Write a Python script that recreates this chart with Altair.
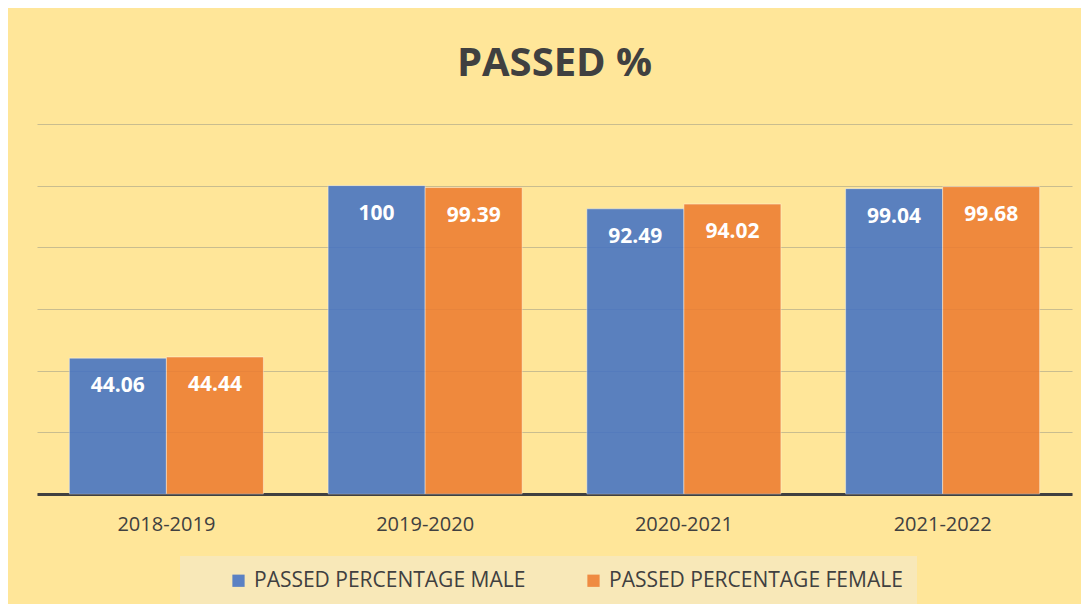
import altair as alt
import pandas as pd

years = ["2018-2019", "2019-2020", "2020-2021", "2021-2022"]
male = [44.06, 100, 92.49, 99.04]
female = [44.44, 99.39, 94.02, 99.68]
male_labels = ["44.06", "100", "92.49", "99.04"]
female_labels = ["44.44", "99.39", "94.02", "99.68"]
series = ["PASSED PERCENTAGE MALE", "PASSED PERCENTAGE FEMALE"]
colors = ["#4472C4", "#ED7D31"]

rows = []
for i, y in enumerate(years):
    rows.append({"year": y, "series": series[0], "value": male[i], "label": male_labels[i]})
    rows.append({"year": y, "series": series[1], "value": female[i], "label": female_labels[i]})
df = pd.DataFrame(rows)

FONT = "Open Sans"
DARK = "#404040"

x = alt.X("year:N", sort=years, title=None,
          scale=alt.Scale(paddingInner=0.25, paddingOuter=0.125),
          axis=alt.Axis(labelAngle=0, ticks=False, labelPadding=20, labelFontSize=20,
                        labelFont=FONT, labelColor=DARK, domainColor=DARK, domainWidth=3,
                        grid=False))
xoff = alt.XOffset("series:N", sort=series)
y = alt.Y("value:Q", title=None,
          scale=alt.Scale(domain=[0, 120], nice=False),
          axis=alt.Axis(values=[0, 20, 40, 60, 80, 100, 120], labels=False, ticks=False,
                        domain=False, grid=True, gridColor="#C9BD8F", gridWidth=1))

bars = alt.Chart(df).mark_bar(opacity=0.88, stroke="#FFFFFF", strokeOpacity=0.45, strokeWidth=1).encode(
    x=x, xOffset=xoff, y=y,
    color=alt.Color("series:N", sort=series,
                    scale=alt.Scale(domain=series, range=colors),
                    legend=alt.Legend(title=" ", titleOrient="left", titlePadding=34,
                                      orient="none", legendX=181 - 38, legendY=432,
                                      direction="horizontal", fillColor="#F8E8B8",
                                      padding=14, symbolType="square", symbolSize=150,
                                      symbolOpacity=0.88, symbolStrokeWidth=0,
                                      labelFont=FONT, labelFontSize=21, labelColor=DARK,
                                      labelOffset=5, columnPadding=57, labelLimit=400)),
)

texts = alt.Chart(df).mark_text(color="white", font=FONT, fontWeight="bold", fontSize=21,
                                baseline="middle", dy=28).encode(
    x=alt.X("year:N", sort=years, scale=alt.Scale(paddingInner=0.25, paddingOuter=0.125)),
    xOffset=xoff, y=alt.Y("value:Q", scale=alt.Scale(domain=[0, 120], nice=False)),
    text="label:N",
)

chart = alt.layer(bars, texts).properties(
    width=1035, height=370,
    title=alt.Title("PASSED %", font=FONT, fontSize=40, fontWeight="bold", color=DARK,
                    anchor="middle", offset=40),
    autosize=alt.AutoSizeParams(type="none"),
    padding={"left": 29, "top": 116, "right": 9, "bottom": 110},
).configure(background="#FFE699").configure_view(stroke=None)

chart.save("out.html", embed_options={"renderer": "svg", "actions": False})
